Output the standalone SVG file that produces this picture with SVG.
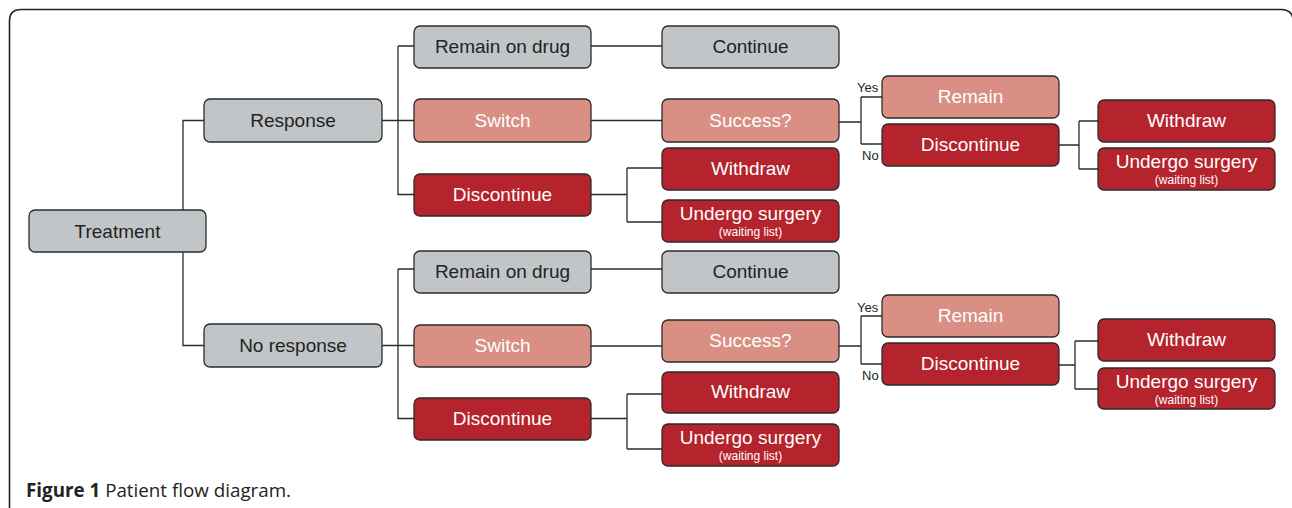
<svg xmlns="http://www.w3.org/2000/svg" width="1292" height="508" viewBox="0 0 1292 508">
<style>
.n rect{stroke:#2b2b2b;stroke-width:1.3}
.g rect{fill:#c2c5c7}
.p rect{fill:#d98f83}
.r rect{fill:#b5232c}
.n text{font-family:"Liberation Sans",Arial,sans-serif;font-size:19px;text-anchor:middle}
.g text{fill:#232323}
.p text,.r text{fill:#ffffff}
.n text.s{font-size:12px}
#connectors path{fill:none;stroke:#2b2b2b;stroke-width:1.3}
.lab{font-family:"Liberation Sans",Arial,sans-serif;font-size:13px;fill:#232323}
.cap{font-family:"Open Sans",sans-serif;font-size:18.8px;fill:#232323}
</style>
<rect width="1292" height="508" fill="#ffffff"/>
<path d="M9.5 510 L9.5 21 Q9.5 9.5 21 9.5 L1281 9.5 Q1293 9.5 1293 21 L1293 510" fill="none" stroke="#222" stroke-width="1.6"/>
<g id="connectors">
<path d="M206 231 H183 V120.5 H204 M183 231 V345.5 H204"/>
<path d="M382 120.5 H414 M398 46 V194.5 H414 M398 46 H414"/>
<path d="M591 46 H662 M591 120.5 H662 M591 194.5 H627 M627 168 V222 M627 168 H662 M627 222 H662"/>
<path d="M839 122 H861 M861 97 V144 M861 97 H882 M861 144 H882"/>
<path d="M1059 145 H1079 M1079 121 V169 M1079 121 H1098 M1079 169 H1098"/>
<path d="M382 345.5 H414 M398 269 V418.5 H414 M398 269 H414"/>
<path d="M591 269 H662 M591 346 H662 M591 418.5 H627 M627 394 V449 M627 394 H662 M627 449 H662"/>
<path d="M839 346 H861 M861 316 V364 M861 316 H882 M861 364 H882"/>
<path d="M1059 365 H1075 M1075 341 V389 M1075 341 H1098 M1075 389 H1098"/>
</g>
<g id="treatment" class="n g"><rect x="29" y="210" width="177" height="42" rx="6"/><text x="117.5" y="237.5">Treatment</text></g>
<g id="response" class="n g"><rect x="204" y="99" width="178" height="43" rx="6"/><text x="293" y="127">Response</text></g>
<g id="noresponse" class="n g"><rect x="204" y="324" width="178" height="43" rx="6"/><text x="293" y="352">No response</text></g>

<g id="remain1" class="n g"><rect x="414" y="26" width="177" height="42" rx="6"/><text x="502.5" y="53">Remain on drug</text></g>
<g id="switch1" class="n p"><rect x="414" y="99" width="177" height="43" rx="6"/><text x="502.5" y="127">Switch</text></g>
<g id="disc1" class="n r"><rect x="414" y="174" width="177" height="42" rx="6"/><text x="502.5" y="201">Discontinue</text></g>
<g id="continue1" class="n g"><rect x="662" y="26" width="177" height="42" rx="6"/><text x="750.5" y="53">Continue</text></g>
<g id="success1" class="n p"><rect x="662" y="99" width="177" height="43" rx="6"/><text x="750.5" y="127">Success?</text></g>
<g id="withdraw1" class="n r"><rect x="662" y="148" width="177" height="42" rx="6"/><text x="750.5" y="175">Withdraw</text></g>
<g id="surgery1" class="n r"><rect x="662" y="200" width="177" height="42" rx="6"/><text x="750.5" y="220">Undergo surgery</text><text class="s" x="750.5" y="236">(waiting list)</text></g>
<g id="remain1b" class="n p"><rect x="882" y="76" width="177" height="42" rx="6"/><text x="970.5" y="103">Remain</text></g>
<g id="disc1b" class="n r"><rect x="882" y="124" width="177" height="42" rx="6"/><text x="970.5" y="151">Discontinue</text></g>
<g id="withdraw1b" class="n r"><rect x="1098" y="100" width="177" height="42" rx="6"/><text x="1186.5" y="127">Withdraw</text></g>
<g id="surgery1b" class="n r"><rect x="1098" y="148" width="177" height="42" rx="6"/><text x="1186.5" y="168">Undergo surgery</text><text class="s" x="1186.5" y="184">(waiting list)</text></g>
<text class="lab" x="857" y="92">Yes</text>
<text class="lab" x="862" y="160">No</text>

<g id="remain2" class="n g"><rect x="414" y="251" width="177" height="42" rx="6"/><text x="502.5" y="278">Remain on drug</text></g>
<g id="switch2" class="n p"><rect x="414" y="325" width="177" height="42" rx="6"/><text x="502.5" y="352">Switch</text></g>
<g id="disc2" class="n r"><rect x="414" y="398" width="177" height="42" rx="6"/><text x="502.5" y="425">Discontinue</text></g>
<g id="continue2" class="n g"><rect x="662" y="251" width="177" height="42" rx="6"/><text x="750.5" y="278">Continue</text></g>
<g id="success2" class="n p"><rect x="662" y="320" width="177" height="42" rx="6"/><text x="750.5" y="347">Success?</text></g>
<g id="withdraw2" class="n r"><rect x="662" y="372" width="177" height="41" rx="6"/><text x="750.5" y="398">Withdraw</text></g>
<g id="surgery2" class="n r"><rect x="662" y="424" width="177" height="42" rx="6"/><text x="750.5" y="444">Undergo surgery</text><text class="s" x="750.5" y="460">(waiting list)</text></g>
<g id="remain2b" class="n p"><rect x="882" y="295" width="177" height="42" rx="6"/><text x="970.5" y="322">Remain</text></g>
<g id="disc2b" class="n r"><rect x="882" y="343" width="177" height="42" rx="6"/><text x="970.5" y="370">Discontinue</text></g>
<g id="withdraw2b" class="n r"><rect x="1098" y="319" width="177" height="42" rx="6"/><text x="1186.5" y="346">Withdraw</text></g>
<g id="surgery2b" class="n r"><rect x="1098" y="368" width="177" height="41" rx="6"/><text x="1186.5" y="388">Undergo surgery</text><text class="s" x="1186.5" y="404">(waiting list)</text></g>
<text class="lab" x="857" y="312">Yes</text>
<text class="lab" x="862" y="380">No</text>

<text class="cap" x="26" y="497"><tspan font-weight="bold">Figure 1</tspan> Patient flow diagram.</text>
</svg>
